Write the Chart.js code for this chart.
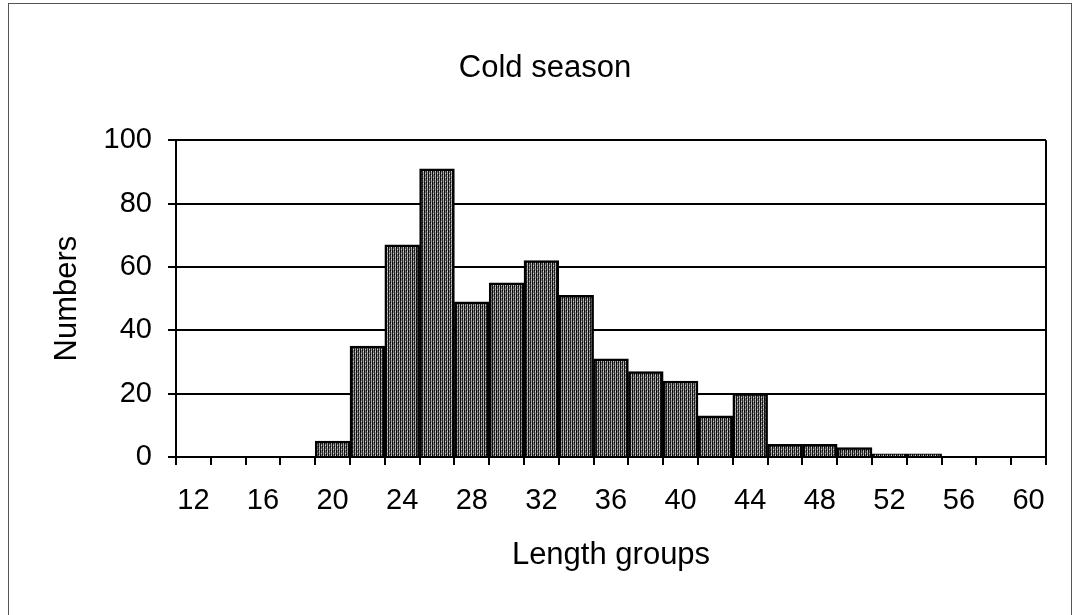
<!DOCTYPE html>
<html>
<head>
<meta charset="utf-8">
<script src="https://cdn.jsdelivr.net/npm/chart.js@4/dist/chart.umd.min.js"></script>
<style>
  html, body { margin: 0; padding: 0; background: #fff; }
  #wrap { position: relative; width: 1074px; height: 615px; overflow: hidden; }
  #frame {
    position: absolute; left: 8px; top: 3px; width: 1062px; height: 700px;
    border-left: 1px solid #555; border-top: 1px solid #555; border-right: 1px solid #555;
    pointer-events: none;
  }
</style>
</head>
<body>
<div id="wrap">
  <canvas id="myChart" width="1074" height="615"></canvas>
  <div id="frame"></div>
</div>
<script>
// length groups (cm) and counts
const lengthGroups = [12, 14, 16, 18, 20, 22, 24, 26, 28, 30, 32, 34, 36, 38, 40, 42, 44, 46, 48, 50, 52, 54, 56, 58, 60];
const numbers = [0, 0, 0, 0, 5, 35, 67, 91, 49, 55, 62, 51, 31, 27, 24, 13, 20, 4, 4, 3, 1, 1, 0, 0, 0];
const yTicks = [0, 20, 40, 60, 80, 100];

const fontFamily = "'Liberation Sans', Arial, sans-serif";

// grainy dark grey fill like the scanned bars
function makePattern() {
    const c = document.createElement('canvas');
    c.width = 4; c.height = 4;
    const g = c.getContext('2d');
    const cols = ['#141414', '#7a7a7a', '#2c2c2c', '#a0a0a0'];
    cols.forEach((col, i) => { g.fillStyle = col; g.fillRect(i, 0, 1, 4); });
    g.fillStyle = '#d0d0d0';
    g.fillRect(1, 1, 1, 1);
    g.fillRect(3, 3, 1, 1);
    g.fillStyle = '#000';
    g.fillRect(2, 2, 1, 1);
    g.fillRect(0, 3, 1, 1);
    return g.createPattern(c, 'repeat');
}

// right edge of the plot frame
const rightBorder = {
    id: 'rightBorder',
    afterDatasetsDraw(chart) {
        const { ctx, chartArea } = chart;
        ctx.save();
        ctx.strokeStyle = '#000';
        ctx.lineWidth = 2;
        ctx.beginPath();
        ctx.moveTo(chartArea.right, chartArea.top);
        ctx.lineTo(chartArea.right, chartArea.bottom);
        ctx.stroke();
        ctx.restore();
    }
};

const ctx = document.getElementById('myChart');

new Chart(ctx, {
    type: 'bar',
    data: {
        labels: lengthGroups,
        datasets: [{
            label: 'Numbers',
            data: numbers,
            backgroundColor: makePattern(),
            borderColor: '#000',
            borderWidth: 2.5,
            categoryPercentage: 1,
            barPercentage: 1,
        }]
    },
    options: {
        responsive: false,
        animation: false,
        layout: { padding: { left: 44, right: 28, top: 0, bottom: 0 } },
        plugins: {
            legend: { display: false },
            tooltip: { enabled: false },
            title: {
                display: true,
                text: 'Cold season',
                color: '#000',
                font: { family: fontFamily, size: 31, weight: 'normal' },
                padding: { top: 50, bottom: 53 }
            }
        },
        scales: {
            x: {
                offset: true,
                grid: {
                    offset: true,
                    drawOnChartArea: false,
                    drawTicks: true,
                    tickLength: 8,
                    color: '#000',
                    lineWidth: 2
                },
                border: { display: true, color: '#000', width: 2 },
                ticks: {
                    autoSkip: false,
                    maxRotation: 0,
                    padding: 19,
                    color: '#000',
                    font: { family: fontFamily, size: 29 },
                    callback: function (val, index) {
                        return index % 2 === 0 ? this.getLabelForValue(val) : '';
                    }
                },
                title: {
                    display: true,
                    text: 'Length groups',
                    color: '#000',
                    font: { family: fontFamily, size: 31 },
                    padding: { top: 0, bottom: 41 }
                },
                afterFit: (scale) => { scale.height = 158; }
            },
            y: {
                min: 0,
                max: 100,
                afterBuildTicks: (scale) => { scale.ticks = yTicks.map(v => ({ value: v })); },
                grid: {
                    color: '#000',
                    lineWidth: 2,
                    tickLength: 8
                },
                border: { display: true, color: '#000', width: 2 },
                ticks: {
                    padding: 16,
                    color: '#000',
                    font: { family: fontFamily, size: 29 }
                },
                title: {
                    display: true,
                    text: 'Numbers',
                    color: '#000',
                    font: { family: fontFamily, size: 31 },
                    padding: { top: 5, bottom: 0 }
                },
                afterFit: (scale) => { scale.width = 132; }
            }
        }
    },
    plugins: [rightBorder]
});
</script>
</body>
</html>
